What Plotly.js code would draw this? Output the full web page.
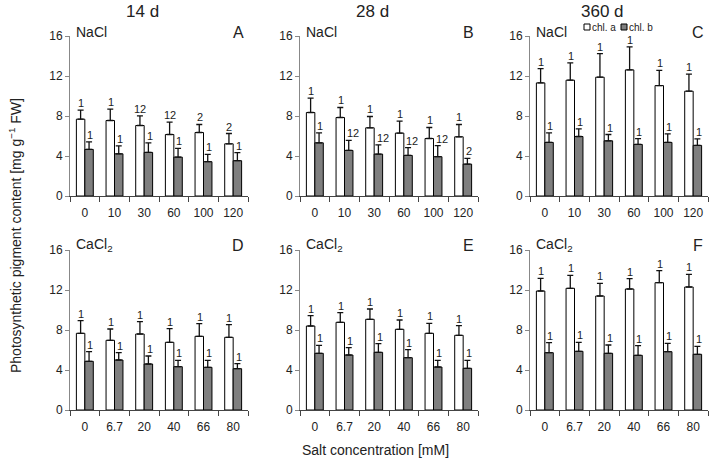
<!DOCTYPE html>
<html>
<head>
<meta charset="utf-8">
<script src="https://cdn.plot.ly/plotly-3.0.1.min.js"></script>
<style>html,body{margin:0;padding:0;background:#fff;}#chart{width:712px;height:465px;}</style>
</head>
<body>
<div id="chart"></div>
<script>
// ---- Data ----
const catsNaCl = ['0', '10', '30', '60', '100', '120'];
const catsCaCl = ['0', '6.7', '20', '40', '66', '80'];

// NaCl 14 d (A)
const chlA_NaCl_14 = [7.68, 7.55, 7.05, 6.15, 6.35, 5.22];
const chlA_NaCl_14_sd = [0.90, 1.13, 0.97, 1.24, 0.80, 1.03];
const chlB_NaCl_14 = [4.66, 4.22, 4.36, 3.89, 3.43, 3.53];
const chlB_NaCl_14_sd = [0.76, 0.80, 0.96, 0.87, 0.73, 0.80];
const sigA_NaCl_14 = ['1', '1', '12', '12', '2', '2'];
const sigB_NaCl_14 = ['1', '1', '1', '1', '1', '1'];

// NaCl 28 d (B)
const chlA_NaCl_28 = [8.35, 7.85, 6.82, 6.29, 5.75, 5.92];
const chlA_NaCl_28_sd = [1.43, 1.00, 1.13, 1.20, 1.10, 1.23];
const chlB_NaCl_28 = [5.32, 4.56, 4.19, 4.06, 3.93, 3.19];
const chlB_NaCl_28_sd = [1.00, 1.00, 0.93, 0.77, 1.10, 0.57];
const sigA_NaCl_28 = ['1', '1', '1', '1', '1', '1'];
const sigB_NaCl_28 = ['1', '12', '12', '12', '12', '2'];

// NaCl 360 d (C)
const chlA_NaCl_360 = [11.31, 11.58, 11.88, 12.61, 11.04, 10.48];
const chlA_NaCl_360_sd = [1.43, 1.73, 2.36, 2.30, 1.53, 1.70];
const chlB_NaCl_360 = [5.36, 5.95, 5.52, 5.16, 5.36, 5.06];
const chlB_NaCl_360_sd = [0.96, 0.77, 0.63, 0.57, 0.86, 0.66];
const sigA_NaCl_360 = ['1', '1', '1', '1', '1', '1'];
const sigB_NaCl_360 = ['1', '1', '1', '1', '1', '1'];

// CaCl2 14 d (D)
const chlA_CaCl_14 = [7.67, 6.97, 7.60, 6.77, 7.37, 7.27];
const chlA_CaCl_14_sd = [1.27, 1.13, 1.23, 1.37, 1.27, 1.27];
const chlB_CaCl_14 = [4.87, 5.00, 4.60, 4.33, 4.27, 4.13];
const chlB_CaCl_14_sd = [0.97, 0.73, 0.80, 0.63, 0.70, 0.50];
const sigA_CaCl_14 = ['1', '1', '1', '1', '1', '1'];
const sigB_CaCl_14 = ['1', '1', '1', '1', '1', '1'];

// CaCl2 28 d (E)
const chlA_CaCl_28 = [8.40, 8.77, 9.07, 8.07, 7.67, 7.47];
const chlA_CaCl_28_sd = [1.03, 0.97, 1.03, 0.93, 1.00, 0.97];
const chlB_CaCl_28 = [5.67, 5.50, 5.77, 5.23, 4.30, 4.17];
const chlB_CaCl_28_sd = [0.80, 0.73, 0.87, 0.80, 0.67, 0.80];
const sigA_CaCl_28 = ['1', '1', '1', '1', '1', '1'];
const sigB_CaCl_28 = ['1', '1', '1', '1', '1', '1'];

// CaCl2 360 d (F)
const chlA_CaCl_360 = [11.90, 12.17, 11.40, 12.10, 12.73, 12.30];
const chlA_CaCl_360_sd = [1.27, 1.30, 1.27, 1.03, 1.20, 1.27];
const chlB_CaCl_360 = [5.73, 5.87, 5.67, 5.47, 5.83, 5.57];
const chlB_CaCl_360_sd = [1.00, 0.90, 0.83, 0.97, 0.83, 0.80];
const sigA_CaCl_360 = ['1', '1', '1', '1', '1', '1'];
const sigB_CaCl_360 = ['1', '1', '1', '1', '1', '1'];

const periods = ['14 d', '28 d', '360 d'];
const panelLetters = ['A', 'B', 'C', 'D', 'E', 'F'];
const saltNames = ['NaCl', 'CaCl<sub>2</sub>'];
const seriesNames = ['chl. a', 'chl. b'];
const yTicks = [0, 4, 8, 12, 16];

// ---- Build ----
const W = 712, H = 465;
const px = x => x / W;
const py = y => 1 - y / H;
const FONT = 'Liberation Sans, Arial, Helvetica, sans-serif';

const panels = [
  {cats: catsNaCl, a: chlA_NaCl_14, ae: chlA_NaCl_14_sd, b: chlB_NaCl_14, be: chlB_NaCl_14_sd, sa: sigA_NaCl_14, sb: sigB_NaCl_14},
  {cats: catsNaCl, a: chlA_NaCl_28, ae: chlA_NaCl_28_sd, b: chlB_NaCl_28, be: chlB_NaCl_28_sd, sa: sigA_NaCl_28, sb: sigB_NaCl_28},
  {cats: catsNaCl, a: chlA_NaCl_360, ae: chlA_NaCl_360_sd, b: chlB_NaCl_360, be: chlB_NaCl_360_sd, sa: sigA_NaCl_360, sb: sigB_NaCl_360},
  {cats: catsCaCl, a: chlA_CaCl_14, ae: chlA_CaCl_14_sd, b: chlB_CaCl_14, be: chlB_CaCl_14_sd, sa: sigA_CaCl_14, sb: sigB_CaCl_14},
  {cats: catsCaCl, a: chlA_CaCl_28, ae: chlA_CaCl_28_sd, b: chlB_CaCl_28, be: chlB_CaCl_28_sd, sa: sigA_CaCl_28, sb: sigB_CaCl_28},
  {cats: catsCaCl, a: chlA_CaCl_360, ae: chlA_CaCl_360_sd, b: chlB_CaCl_360, be: chlB_CaCl_360_sd, sa: sigA_CaCl_360, sb: sigB_CaCl_360}
];

const colPx = [[70, 248], [300, 478], [530, 708]];
const rowPx = [[36, 196], [250, 410]];

const colors = ['#ffffff', '#7f7f7f'];
const traces = [];
const annotations = [];
const layout = {
  width: W, height: H,
  margin: {l: 0, r: 0, t: 0, b: 0},
  paper_bgcolor: '#fff', plot_bgcolor: '#fff',
  showlegend: false,
  barmode: 'group', bargap: 0.43, bargroupgap: 0,
  font: {family: FONT, color: '#222', size: 12},
  shapes: []
};

panels.forEach((p, i) => {
  const n = i + 1;
  const r = Math.floor(i / 3), c = i % 3;
  const xa = 'x' + (n === 1 ? '' : n), ya = 'y' + (n === 1 ? '' : n);
  const zeros = p.cats.map(() => 0);
  [[p.a, p.ae], [p.b, p.be]].forEach((s, k) => {
    traces.push({
      type: 'bar', x: p.cats, y: s[0], name: seriesNames[k],
      xaxis: xa, yaxis: ya, offsetgroup: String(k),
      marker: {color: colors[k], line: {color: '#000', width: 1}},
      error_y: {type: 'data', symmetric: false, array: s[1], arrayminus: zeros,
                color: '#111', thickness: 1.3, width: 3},
      showlegend: false, hoverinfo: 'skip'
    });
  });
  // significance letters: category axes take the category index as position
  p.cats.forEach((cat, j) => {
    annotations.push({xref: xa, yref: ya, x: j, y: p.a[j] + p.ae[j], text: p.sa[j],
      showarrow: false, xanchor: 'center', yanchor: 'bottom', xshift: -3.8, yshift: -1,
      font: {size: 11, color: '#222'}});
    annotations.push({xref: xa, yref: ya, x: j, y: p.b[j] + p.be[j], text: p.sb[j],
      showarrow: false, xanchor: 'left', yanchor: 'bottom', xshift: 0.5, yshift: -1,
      font: {size: 11, color: '#222'}});
  });
  const xkey = 'xaxis' + (n === 1 ? '' : n), ykey = 'yaxis' + (n === 1 ? '' : n);
  layout[xkey] = {
    domain: [px(colPx[c][0]), px(colPx[c][1])], anchor: ya, type: 'category',
    range: [-0.5, 5.5], tickson: 'boundaries', ticks: 'outside', ticklen: 5,
    tickcolor: '#444', showline: true, linecolor: '#444', linewidth: 1,
    showgrid: false, zeroline: false, fixedrange: true,
    ticklabelstandoff: 6,
    tickfont: {size: 12, color: '#222', family: FONT}
  };
  layout[ykey] = {
    domain: [py(rowPx[r][1]), py(rowPx[r][0])], anchor: xa,
    range: [0, 16], tickvals: yTicks, ticks: 'outside', ticklen: 4,
    tickcolor: '#888', showline: true, linecolor: '#888', linewidth: 1,
    showgrid: false, zeroline: false, fixedrange: true,
    tickfont: {size: 12, color: '#222', family: FONT}
  };
  // salt label
  annotations.push({xref: 'paper', yref: 'paper', x: px(colPx[c][0] + 4), y: py(r === 0 ? 32 : 245),
    text: saltNames[r], showarrow: false, xanchor: 'left', yanchor: 'middle',
    font: {size: 14, color: '#222'}});
  // panel letter
  annotations.push({xref: 'paper', yref: 'paper', x: px(colPx[c][1] - 10), y: py(r === 0 ? 32 : 245),
    text: panelLetters[i], showarrow: false, xanchor: 'center', yanchor: 'middle',
    font: {size: 16, color: '#222'}});
});

// column titles
periods.forEach((t, c) => {
  annotations.push({xref: 'paper', yref: 'paper', x: px((colPx[c][0] + colPx[c][1]) / 2 - 17), y: py(11),
    text: t, showarrow: false, xanchor: 'center', yanchor: 'middle',
    font: {size: 17, color: '#222'}});
});

// axis titles
annotations.push({xref: 'paper', yref: 'paper', x: px(376), y: py(450),
  text: 'Salt concentration [mM]', showarrow: false, xanchor: 'center', yanchor: 'middle',
  font: {size: 14, color: '#222'}});
annotations.push({xref: 'paper', yref: 'paper', x: px(15), y: py(236), textangle: -90,
  text: 'Photosynthetic pigment content [mg g<sup>\u22121</sup> FW]', showarrow: false,
  xanchor: 'center', yanchor: 'middle', font: {size: 14, color: '#222'}});

// legend (drawn manually for compact layout)
const legX = [584, 621];
seriesNames.forEach((nm, k) => {
  layout.shapes.push({type: 'rect', xref: 'paper', yref: 'paper',
    x0: px(legX[k]), x1: px(legX[k] + 6), y0: py(30), y1: py(24),
    fillcolor: colors[k], line: {color: '#000', width: 1}});
  annotations.push({xref: 'paper', yref: 'paper', x: px(legX[k] + 6), y: py(27),
    text: nm, showarrow: false, xanchor: 'left', yanchor: 'middle',
    font: {size: 10, color: '#222'}});
});

layout.annotations = annotations;
Plotly.newPlot('chart', traces, layout, {staticPlot: true, displayModeBar: false});
</script>
</body>
</html>
